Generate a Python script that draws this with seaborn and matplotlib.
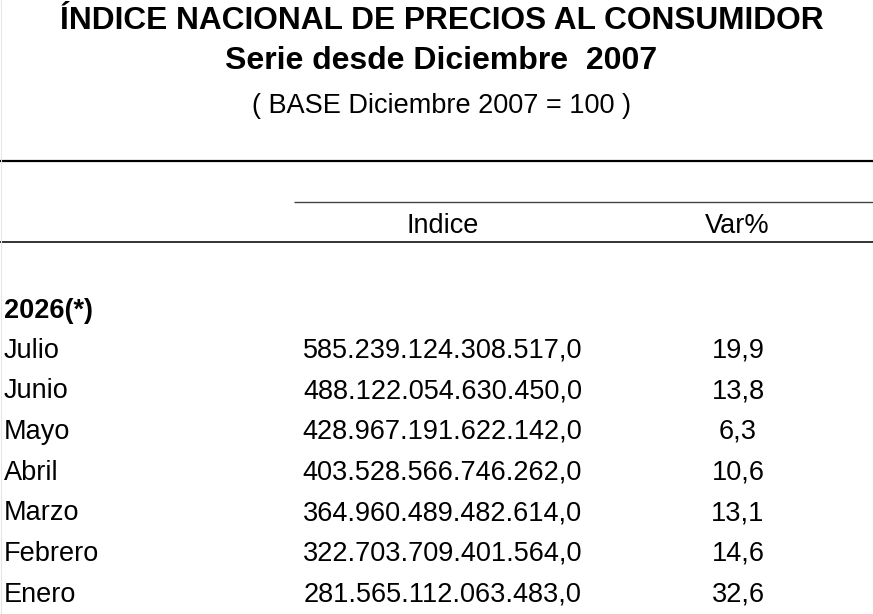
import matplotlib
matplotlib.use("Agg")
import matplotlib.pyplot as plt
import seaborn as sns

TITLE = "ÍNDICE NACIONAL DE PRECIOS AL CONSUMIDOR"
SUBTITLE = "Serie desde Diciembre  2007"
BASE_NOTE = "( BASE Diciembre 2007 = 100 )"
COL_HEADERS = ["Indice", "Var%"]
YEAR_LABEL = "2026(*)"

months = ["Julio", "Junio", "Mayo", "Abril", "Marzo", "Febrero", "Enero"]
indice = [
    "585.239.124.308.517,0",
    "488.122.054.630.450,0",
    "428.967.191.622.142,0",
    "403.528.566.746.262,0",
    "364.960.489.482.614,0",
    "322.703.709.401.564,0",
    "281.565.112.063.483,0",
]
var_pct = ["19,9", "13,8", "6,3", "10,6", "13,1", "14,6", "32,6"]

W, H = 873, 614

sns.set_theme(style="white")
plt.rcParams["font.family"] = ["Liberation Sans", "DejaVu Sans"]

fig = plt.figure(figsize=(W / 100, H / 100), dpi=100)
ax = fig.add_axes([0, 0, 1, 1])
ax.set_xlim(0, W)
ax.set_ylim(H, 0)
ax.axis("off")

# titles
ax.text(442, 29, TITLE, ha="center", va="baseline", fontsize=22.8,
        fontweight="bold", color="black")
ax.text(441, 69, SUBTITLE, ha="center", va="baseline", fontsize=23,
        fontweight="bold", color="black")
ax.text(442, 113, BASE_NOTE, ha="center", va="baseline", fontsize=19.5,
        color="black")

# rules
ax.plot([0, W], [160.5, 160.5], color="black", lw=1.6, solid_capstyle="butt")
ax.plot([294, W], [201.7, 201.7], color="#444444", lw=1.0, solid_capstyle="butt")
ax.plot([0, W], [242.3, 242.3], color="#333333", lw=1.4, solid_capstyle="butt")
ax.plot([0.5, 0.5], [0, H], color="#e6e6e6", lw=0.8)

# column headers
col_x = [442.5, 737.5]
for x, lab in zip(col_x, COL_HEADERS):
    ax.text(x, 233, lab, ha="center", va="baseline", fontsize=19.5, color="black")

# year label
ax.text(4, 317.5, YEAR_LABEL, ha="left", va="baseline", fontsize=19.5,
        fontweight="bold", color="black")

# rows
y0, step = 357.5, 40.7
for i, (m, v, p) in enumerate(zip(months, indice, var_pct)):
    y = y0 + i * step
    ax.text(4, y, m, ha="left", va="baseline", fontsize=19.5, color="black")
    ax.text(col_x[0], y, v, ha="center", va="baseline", fontsize=19.5, color="black")
    ax.text(738, y, p, ha="center", va="baseline", fontsize=19.5, color="black")

fig.savefig("out.png", dpi=100, facecolor="white")
